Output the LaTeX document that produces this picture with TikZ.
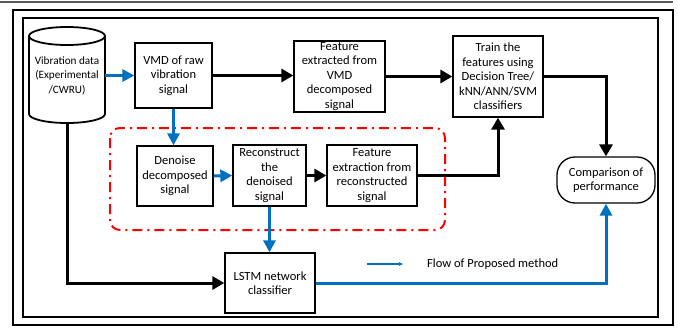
\documentclass[tikz,border=0pt]{standalone}
\usepackage{fontspec}
\setmainfont{Carlito}
\usetikzlibrary{arrows.meta}
\definecolor{flowblue}{HTML}{0070C0}
\begin{document}
\begin{tikzpicture}[x=1pt,y=-1pt,
  box/.style={draw, line width=1.3pt, align=center, font=\fontsize{12.5}{14.5}\selectfont, inner sep=0pt},
  txt/.style={align=center, font=\fontsize{12.5}{14.5}\selectfont, inner sep=0pt},
  blk/.style={line width=3pt, -{Triangle[length=12pt,width=13pt]}},
  blu/.style={line width=3pt, flowblue, -{Triangle[length=12pt,width=12pt]}},
]
\useasboundingbox (0,0) rectangle (678,327);
% frames
\draw[black!65, line width=1.5pt] (0,2) -- (673,2);
\draw[line width=2pt] (13,10) rectangle (673,325);
\draw[line width=1.2pt] (23,18) rectangle (658,317);
% red group
\draw[red, line width=2pt, rounded corners=10pt, dash pattern=on 10pt off 5pt on 2pt off 5pt] (110,128) rectangle (445,230);
% cylinder
\draw[line width=1.8pt, fill=white] (29,36) -- (29,114) arc[start angle=180,end angle=0,x radius=38,y radius=9] -- (105,36);
\draw[line width=1.8pt] (67,36) ellipse [x radius=38, y radius=9];
\node[txt, font=\fontsize{11.2}{14.5}\selectfont, minimum width=76pt, minimum height=96pt] (data) at (67,75.5) {Vibration data\\(Experimental\\/CWRU)};
% boxes
\node[box, minimum width=77pt, minimum height=65pt] (vmd) at (173.5,75.5) {VMD of raw\\vibration\\signal};
\node[box, minimum width=91pt, minimum height=71pt] (feat) at (339.5,76.5) {Feature\\extracted from\\VMD\\decomposed\\signal};
\node[box, minimum width=90pt, minimum height=81pt] (train) at (498,76.5) {Train the\\features using\\Decision Tree/\\kNN/ANN/SVM\\classifiers};
\node[box, minimum width=76pt, minimum height=60pt] (denoise) at (175,176) {Denoise\\decomposed\\signal};
\node[box, minimum width=73pt, minimum height=61pt] (recon) at (269.5,175.5) {Reconstruct\\the\\denoised\\signal};
\node[box, minimum width=90pt, minimum height=61pt] (fext) at (372,175.5) {Feature\\extraction from\\reconstructed\\signal};
\node[box, minimum width=90pt, minimum height=60pt] (lstm) at (270,283) {LSTM network\\classifier};
\node[box, rounded corners=18pt, minimum width=98pt, minimum height=46pt] (comp) at (606,180) {Comparison of\\performance};
% legend
\coordinate (lg1) at (367,264);
\coordinate (lg2) at (403,264);
\draw[flowblue, line width=1.2pt, -{Triangle[length=4pt,width=3.5pt]}] (lg1) -- (lg2);
\node[txt, anchor=west] (legend) at (427,264) {Flow of Proposed method};
% connectors
\draw[blu] (data.east |- vmd.west) -- (vmd.west);
\draw[blk] (vmd.east) -- (vmd.east -| feat.west);
\draw[blk] (feat.east) -- (train.west);
\draw[blu] (vmd.south) -- (vmd.south |- denoise.north);
\draw[blu] (denoise.east) -- (recon.west);
\draw[blk] (recon.east) -- (fext.west);
\draw[blk] (fext.east) -| (train.south);
\draw[blk] (train.east) -| (comp.north);
\draw[blu] (recon.south) -- (recon.south |- lstm.north);
\draw[blk] (data.south) |- (lstm.west);
\draw[blu] (lstm.east) -| (comp.south);
\end{tikzpicture}
\end{document}
